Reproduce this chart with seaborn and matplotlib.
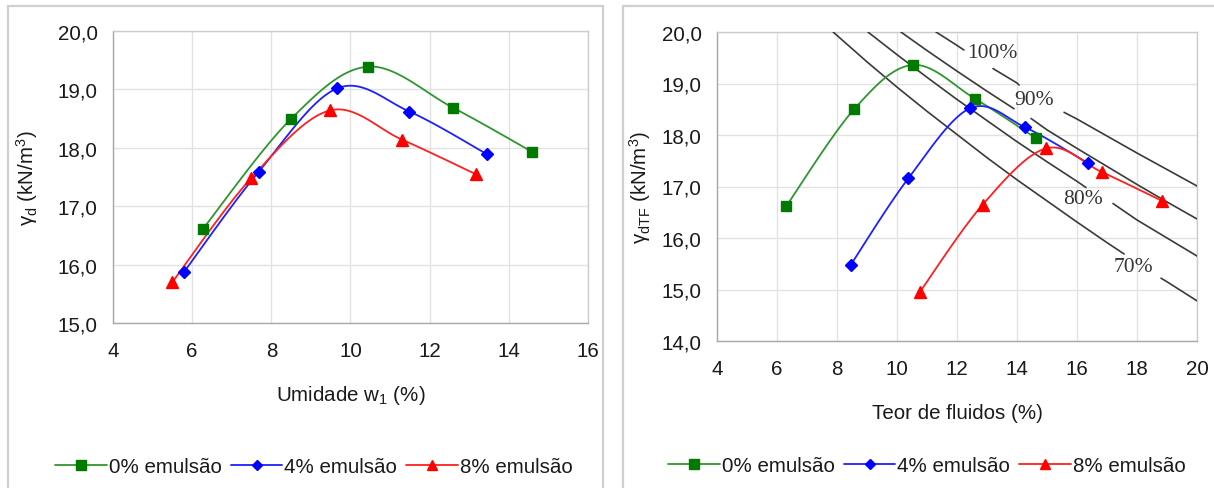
"""
Compaction curves: dry unit weight vs moisture / fluid content, 0-8% emulsion.
Two panels side by side, Excel-like styling with smoothed lines.
"""

import matplotlib
matplotlib.use("Agg")
import matplotlib.pyplot as plt
import matplotlib.ticker as mticker
from matplotlib.lines import Line2D
from matplotlib.patches import Rectangle
import numpy as np
import seaborn as sns

# ── Data: left panel (umidade w1) ─────────────────────────────────────
W_0 = [6.27, 8.49, 10.45, 12.58, 14.59]
GD_0 = [16.61, 18.49, 19.39, 18.69, 17.93]
W_4 = [5.79, 7.68, 9.67, 11.49, 13.45]
GD_4 = [15.87, 17.59, 19.02, 18.62, 17.89]
W_8 = [5.50, 7.49, 9.48, 11.30, 13.16]
GD_8 = [15.70, 17.48, 18.64, 18.14, 17.55]

# ── Data: right panel (teor de fluidos) ───────────────────────────────
TF_0 = [6.31, 8.57, 10.53, 12.61, 14.63]
GTF_0 = [16.62, 18.50, 19.36, 18.70, 17.94]
TF_4 = [8.46, 10.38, 12.44, 14.27, 16.35]
GTF_4 = [15.48, 17.16, 18.52, 18.15, 17.46]
TF_8 = [10.76, 12.86, 14.97, 16.83, 18.84]
GTF_8 = [14.95, 16.65, 17.74, 17.28, 16.72]

# saturation curves (nan = gap behind a label)
NAN = np.nan
SAT_70_X = [7.87, 9, 10, 11, 12, 13, 14, 15, 16, 17, 17.57, NAN, 18.8, 19, 20]
SAT_70_Y = [20.0, 19.42, 18.93, 18.46, 18.01, 17.56, 17.13, 16.72, 16.31, 15.91, 15.69, NAN, 15.22, 15.15, 14.78]
SAT_80_X = [9.03, 10, 11, 12, 13, 14, 15, 16, 16.3, NAN, 17.2, 18, 19, 20]
SAT_80_Y = [20.0, 19.56, 19.12, 18.69, 18.28, 17.87, 17.48, 17.10, 16.98, NAN, 16.67, 16.35, 16.00, 15.65]
SAT_90_X = [10.13, 11, 12, 13, 13.9, NAN, 14.47, 15, 16, 17, 18, 19, 20]
SAT_90_Y = [20.0, 19.64, 19.24, 18.85, 18.51, NAN, 18.32, 18.10, 17.74, 17.39, 17.04, 16.70, 16.37]
SAT_100_X = [11.3, 12, 12.23, NAN, 13.2, 14, 14.07, NAN, 15.57, 16, 17, 18, 19, 20]
SAT_100_Y = [20.0, 19.74, 19.65, NAN, 19.29, 19.01, 18.97, NAN, 18.44, 18.31, 17.98, 17.65, 17.33, 17.01]

SAT_LABELS = ["70%", "80%", "90%", "100%"]
SAT_LABEL_X = [17.87, 16.2, 14.57, 13.17]
SAT_LABEL_Y = [15.44, 16.76, 18.68, 19.61]

SERIES = ["0% emulsão", "4% emulsão", "8% emulsão"]

# ── Style ─────────────────────────────────────────────────────────────
LINE_COLORS = ["#2f962f", "#1f1fff", "#ff2020"]
MARK_COLORS = ["#007a00", "#0000ff", "#ff0000"]
MARKERS = ["s", "D", "^"]
MARK_SIZES = [7.5, 6.5, 8.5]
GRID = "#e2e2e2"
AXIS = "#a8a8a8"
FRAME = "#cfcfcf"
TEXT = "#1a1a1a"
FS = 14.8

sns.set_theme(style="white")
plt.rcParams.update({
    "font.family": ["Liberation Sans", "DejaVu Sans"],
    "mathtext.fontset": "custom",
    "mathtext.rm": "Liberation Sans",
    "mathtext.it": "Liberation Sans:italic",
    "text.color": TEXT,
    "axes.labelcolor": TEXT,
    "xtick.color": TEXT,
    "ytick.color": TEXT,
})

W, H = 1214, 489


def smooth(ax, xs, ys, n=30):
    """Excel-style smoothed line (Catmull-Rom Bezier in display space)."""
    pts = ax.transData.transform(np.column_stack([xs, ys]))
    p = np.vstack([pts[0], pts, pts[-1]])
    out = []
    t = np.linspace(0, 1, n)[:, None]
    for i in range(1, len(p) - 2):
        p0, p1, p2, p3 = p[i - 1], p[i], p[i + 1], p[i + 2]
        c1 = p1 + (p2 - p0) / 6
        c2 = p2 - (p3 - p1) / 6
        seg = (1 - t) ** 3 * p1 + 3 * (1 - t) ** 2 * t * c1 + 3 * (1 - t) * t ** 2 * c2 + t ** 3 * p2
        out.append(seg if i == 1 else seg[1:])
    out = ax.transData.inverted().transform(np.vstack(out))
    return out[:, 0], out[:, 1]


def style_axes(ax, xlim, ylim, xstep):
    ax.set_xlim(*xlim)
    ax.set_ylim(*ylim)
    ax.xaxis.set_major_locator(mticker.MultipleLocator(xstep))
    ax.yaxis.set_major_locator(mticker.MultipleLocator(1))
    ax.yaxis.set_major_formatter(mticker.FuncFormatter(lambda v, _: f"{v:.1f}".replace(".", ",")))
    ax.grid(True, color=GRID, linewidth=1.0)
    ax.set_axisbelow(True)
    for side in ("left", "bottom"):
        ax.spines[side].set_color(AXIS)
        ax.spines[side].set_linewidth(1.0)
    for side in ("top", "right"):
        ax.spines[side].set_color("#cccccc")
        ax.spines[side].set_linewidth(1.0)
    ax.tick_params(axis="both", direction="out", length=5, width=0.9, color=AXIS, labelsize=FS)
    ax.tick_params(axis="y", pad=6)
    ax.tick_params(axis="x", pad=8)


def draw_series(ax, xs, ys, i):
    sx, sy = smooth(ax, xs, ys)
    sns.lineplot(x=sx, y=sy, ax=ax, sort=False, estimator=None, color=LINE_COLORS[i], linewidth=1.3, zorder=4)
    ax.plot(xs, ys, linestyle="none", marker=MARKERS[i], markersize=MARK_SIZES[i],
            markerfacecolor=MARK_COLORS[i], markeredgecolor=MARK_COLORS[i], zorder=5)


def add_legend(fig, cx, cy):
    handles = [
        Line2D([], [], color=LINE_COLORS[i], linewidth=1.3, marker=MARKERS[i],
               markersize=MARK_SIZES[i] - 1, markerfacecolor=MARK_COLORS[i], markeredgecolor=MARK_COLORS[i])
        for i in range(3)
    ]
    fig.legend(handles, SERIES, loc="center", bbox_to_anchor=(cx, cy), ncol=3, frameon=False,
               fontsize=FS, handlelength=2.5, handletextpad=0.1, columnspacing=0.45, borderpad=0)


fig = plt.figure(figsize=(W / 100, H / 100), dpi=100)
fig.patch.set_facecolor("white")

# panel frames
fig.add_artist(Rectangle((8 / W, -0.05), (603 - 8) / W, (489 - 7) / H + 0.05, transform=fig.transFigure,
                         fill=False, edgecolor=FRAME, linewidth=1.6))
fig.add_artist(Rectangle((623 / W, -0.05), (1216 - 623) / W, (489 - 7) / H + 0.05, transform=fig.transFigure,
                         fill=False, edgecolor=FRAME, linewidth=1.6))

# ── Left panel ────────────────────────────────────────────────────────
ax1 = fig.add_axes([113 / W, 1 - 324 / H, (588 - 113) / W, (324 - 32) / H])
style_axes(ax1, (4, 16), (15, 20), 2)
for i, (xs, ys) in enumerate([(W_0, GD_0), (W_4, GD_4), (W_8, GD_8)]):
    draw_series(ax1, xs, ys, i)
ax1.set_xlabel(r"Umidade w$_\mathrm{1}$ (%)", fontsize=FS)
ax1.set_ylabel(r"γ$_\mathrm{d}$ (kN/m$^\mathrm{3}$)", fontsize=FS)
ax1.xaxis.set_label_coords(0.5, -0.205)
ax1.yaxis.set_label_coords(-0.154, 0.5)
add_legend(fig, 314 / W, 1 - 468 / H)

# ── Right panel ───────────────────────────────────────────────────────
ax2 = fig.add_axes([717 / W, 1 - 342 / H, (1197 - 717) / W, (342 - 33) / H])
style_axes(ax2, (4, 20), (14, 20), 2)
for sx, sy in [(SAT_70_X, SAT_70_Y), (SAT_80_X, SAT_80_Y), (SAT_90_X, SAT_90_Y), (SAT_100_X, SAT_100_Y)]:
    ax2.plot(sx, sy, color="#3a3a3a", linewidth=1.2, zorder=3, clip_on=True)
for lab, lx, ly in zip(SAT_LABELS, SAT_LABEL_X, SAT_LABEL_Y):
    ax2.text(lx, ly, lab, ha="center", va="center", fontsize=15.5, color="#333333",
             family=["Liberation Serif", "DejaVu Serif"], zorder=3)
for i, (xs, ys) in enumerate([(TF_0, GTF_0), (TF_4, GTF_4), (TF_8, GTF_8)]):
    draw_series(ax2, xs, ys, i)
ax2.set_xlabel("Teor de fluidos (%)", fontsize=FS)
ax2.set_ylabel(r"γ$_\mathrm{dTF}$ (kN/m$^\mathrm{3}$)", fontsize=FS)
ax2.xaxis.set_label_coords(0.5, -0.20)
ax2.yaxis.set_label_coords(-0.133, 0.5)
add_legend(fig, 927 / W, 1 - 467 / H)

fig.savefig("out.png", dpi=100, facecolor="white")
plt.close(fig)
